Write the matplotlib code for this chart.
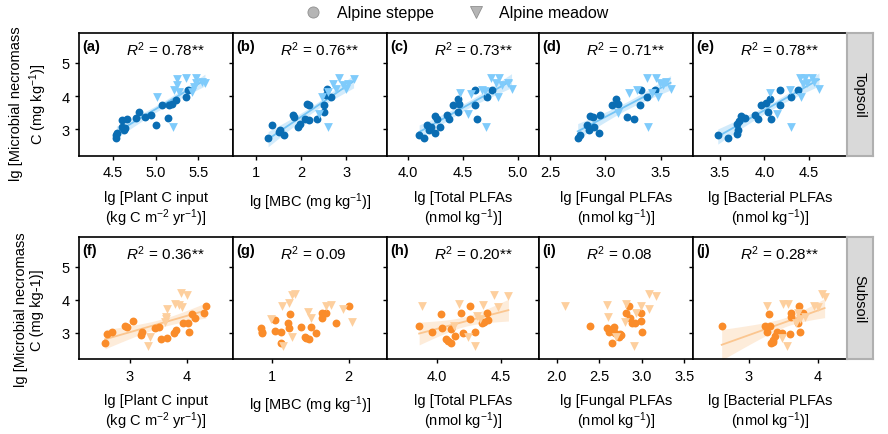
import numpy as np
import matplotlib.pyplot as plt
from matplotlib.lines import Line2D

plt.rcParams['font.family'] = ['Liberation Sans', 'DejaVu Sans']
plt.rcParams['mathtext.fontset'] = 'custom'
plt.rcParams['mathtext.rm'] = 'Liberation Sans'
plt.rcParams['mathtext.it'] = 'Liberation Sans:italic'
plt.rcParams['mathtext.bf'] = 'Liberation Sans:bold'

# ---- topsoil data (lg values) ----
a_steppe_x = [4.54, 4.54, 4.55, 4.60, 4.63, 4.60, 4.67, 4.77, 4.81, 4.88, 4.95, 5.00, 5.08, 5.15, 5.16, 5.19, 5.24, 5.36, 5.38, 4.64]
a_steppe_y = [2.74, 2.83, 2.89, 3.06, 2.98, 3.28, 3.31, 3.34, 3.51, 3.37, 3.43, 3.13, 3.74, 3.33, 3.73, 3.77, 3.89, 3.96, 4.17, 3.03]
a_meadow_x = [5.02, 5.21, 5.25, 5.36, 5.48, 5.25, 5.22, 5.27, 5.47, 5.55, 5.58, 5.43, 5.45]
a_meadow_y = [3.96, 3.07, 4.52, 4.54, 4.54, 4.34, 4.17, 4.12, 4.40, 4.42, 4.40, 4.12, 4.27]

b_steppe_x = [1.26, 1.34, 1.53, 1.62, 1.81, 1.84, 1.92, 1.96, 2.07, 2.13, 2.18, 2.18, 2.35, 2.51, 2.51, 2.55, 2.57, 2.66, 1.50]
b_steppe_y = [2.74, 3.13, 2.98, 2.81, 3.43, 3.36, 3.08, 3.16, 3.31, 3.76, 3.74, 3.29, 3.31, 3.51, 3.73, 4.02, 4.20, 3.96, 2.90]
b_meadow_x = [2.39, 2.60, 2.46, 2.70, 2.84, 2.78, 2.93, 3.00, 3.04, 3.16, 2.59]
b_meadow_y = [3.46, 3.06, 3.98, 4.37, 4.54, 4.22, 4.32, 4.20, 4.37, 4.52, 4.12]

c_steppe_x = [4.10, 4.14, 4.17, 4.19, 4.21, 4.24, 4.24, 4.26, 4.29, 4.35, 4.37, 4.41, 4.45, 4.46, 4.45, 4.61, 4.61, 4.63, 4.72, 4.76]
c_steppe_y = [2.81, 2.74, 3.14, 2.98, 3.06, 2.89, 3.39, 3.31, 3.08, 3.43, 3.31, 3.74, 3.91, 3.76, 3.51, 4.17, 3.73, 3.31, 3.96, 4.19]
c_meadow_x = [4.47, 4.54, 4.57, 4.71, 4.67, 4.70, 4.75, 4.83, 4.82, 4.85, 4.91, 4.94, 4.80]
c_meadow_y = [4.09, 3.45, 4.07, 3.06, 4.19, 4.14, 4.54, 4.54, 3.98, 4.34, 4.40, 4.20, 4.40]

d_steppe_x = [2.75, 2.77, 2.83, 2.85, 2.86, 2.89, 2.90, 2.94, 2.95, 3.06, 3.10, 3.11, 3.20, 3.26, 3.31, 3.32, 3.38, 3.45]
d_steppe_y = [2.74, 2.81, 3.13, 2.98, 3.41, 3.36, 3.06, 2.89, 3.43, 3.73, 3.91, 3.76, 3.38, 3.31, 3.73, 4.17, 3.96, 4.19]
d_meadow_x = [3.11, 3.21, 3.29, 3.39, 3.38, 3.46, 3.42, 3.48, 3.49, 3.55, 3.59, 3.52]
d_meadow_y = [3.48, 4.09, 4.17, 3.06, 4.54, 4.54, 4.09, 3.96, 4.40, 4.42, 4.20, 4.32]

e_steppe_x = [3.48, 3.59, 3.69, 3.69, 3.71, 3.72, 3.74, 3.78, 3.90, 3.93, 3.96, 4.02, 4.04, 4.06, 4.07, 4.17, 4.17, 4.30, 4.38]
e_steppe_y = [2.81, 2.74, 3.16, 2.86, 2.99, 3.26, 3.39, 3.33, 3.43, 3.31, 3.74, 3.78, 3.51, 3.91, 3.31, 4.17, 3.73, 3.96, 4.19]
e_meadow_x = [4.06, 4.14, 4.29, 4.30, 4.41, 4.40, 4.45, 4.48, 4.53, 4.56, 4.61, 4.43]
e_meadow_y = [4.09, 3.46, 4.17, 3.06, 3.96, 4.54, 4.54, 4.40, 4.54, 4.42, 4.20, 4.37]

# ---- subsoil data ----
f_steppe_x = [2.56, 2.60, 2.68, 2.95, 3.05, 3.19, 3.21, 3.44, 3.52, 3.55, 3.66, 3.78, 3.82, 3.94, 4.03, 4.04, 4.15, 4.09, 4.31, 4.34, 2.92]
f_steppe_y = [2.68, 2.95, 3.03, 3.18, 3.35, 2.93, 3.01, 3.13, 3.18, 2.80, 2.83, 3.00, 3.08, 3.28, 3.28, 3.01, 3.45, 3.55, 3.58, 3.81, 3.20]
f_meadow_x = [3.32, 3.35, 3.62, 3.64, 3.66, 3.79, 3.86, 3.91, 4.01, 3.63, 3.92]
f_meadow_y = [2.60, 2.88, 3.33, 3.48, 3.73, 3.88, 3.83, 4.20, 4.15, 3.40, 3.78]

g_steppe_x = [0.86, 0.87, 0.88, 1.04, 1.05, 1.12, 1.12, 1.21, 1.22, 1.24, 1.38, 1.43, 1.48, 1.51, 1.58, 1.65, 1.66, 1.71, 1.84, 2.00, 1.45]
g_steppe_y = [3.13, 2.98, 3.03, 3.38, 3.05, 3.01, 2.68, 3.28, 3.13, 3.55, 3.18, 2.88, 2.81, 3.18, 2.98, 3.61, 3.45, 3.58, 3.28, 3.81, 2.85]
g_meadow_x = [0.99, 1.14, 1.15, 1.23, 1.27, 1.31, 1.27, 1.47, 1.51, 1.70, 1.77, 1.92, 2.04]
g_meadow_y = [3.40, 3.80, 2.60, 3.90, 4.13, 4.16, 2.88, 3.63, 3.43, 3.81, 3.85, 3.73, 3.31]

h_steppe_x = [3.86, 3.96, 4.03, 4.04, 4.07, 4.11, 4.11, 4.14, 4.19, 4.20, 4.26, 4.26, 4.30, 4.35, 4.37, 4.39, 4.40, 4.09]
h_steppe_y = [3.20, 3.01, 3.56, 3.15, 2.80, 2.68, 3.10, 2.91, 3.60, 3.00, 3.81, 3.41, 3.03, 3.28, 3.33, 3.60, 3.38, 2.76]
h_meadow_x = [3.88, 4.17, 4.24, 4.30, 4.34, 4.36, 4.45, 4.48, 4.56, 4.13, 4.31]
h_meadow_y = [3.80, 3.88, 2.88, 2.60, 3.41, 3.85, 4.15, 3.78, 4.10, 3.20, 3.50]

i_steppe_x = [2.39, 2.59, 2.61, 2.65, 2.67, 2.69, 2.73, 2.76, 2.82, 2.85, 2.86, 2.88, 2.92, 2.99, 2.99, 3.00, 2.63, 2.74]
i_steppe_y = [3.20, 3.13, 3.03, 2.68, 3.18, 2.98, 2.88, 2.93, 3.58, 3.80, 3.43, 3.28, 3.28, 3.60, 3.35, 3.01, 3.08, 2.95]
i_meadow_x = [2.10, 2.59, 2.60, 2.70, 2.80, 2.82, 2.91, 2.93, 2.99, 3.08, 3.09, 3.17]
i_meadow_y = [3.80, 3.83, 3.48, 2.88, 3.33, 3.88, 2.60, 3.60, 3.80, 3.73, 4.16, 4.10]

j_steppe_x = [2.61, 3.24, 3.26, 3.30, 3.31, 3.32, 3.35, 3.38, 3.41, 3.48, 3.60, 3.61, 3.62, 3.71, 3.73, 3.75, 3.79, 3.36]
j_steppe_y = [3.20, 3.20, 3.01, 3.56, 3.20, 2.68, 2.78, 2.90, 3.03, 2.98, 2.95, 3.58, 3.46, 3.28, 3.81, 3.03, 3.60, 2.72]
j_meadow_x = [3.27, 3.49, 3.50, 3.56, 3.57, 3.69, 3.72, 3.82, 3.95, 4.01, 4.06, 4.10, 3.74]
j_meadow_y = [3.80, 2.85, 3.88, 2.58, 3.86, 3.30, 3.60, 3.46, 3.80, 3.78, 4.16, 4.08, 3.40]

panel_tags = ['(a)', '(b)', '(c)', '(d)', '(e)', '(f)', '(g)', '(h)', '(i)', '(j)']
r2_labels = ['0.78**', '0.76**', '0.73**', '0.71**', '0.78**',
             '0.36**', '0.09', '0.20**', '0.08', '0.28**']
significant = [True, True, True, True, True, True, False, True, False, True]

top_xticks = [[4.5, 5.0, 5.5], [1, 2, 3], [4.0, 4.5, 5.0], [2.5, 3.0, 3.5], [3.5, 4.0, 4.5]]
top_xticklabels = [['4.5', '5.0', '5.5'], ['1', '2', '3'], ['4.0', '4.5', '5.0'],
                   ['2.5', '3.0', '3.5'], ['3.5', '4.0', '4.5']]
top_xlims = [(4.10, 5.91), (0.48, 3.91), (3.81, 5.19), (2.40, 3.79), (3.20, 4.92)]
sub_xticks = [[3, 4], [1, 2], [4.0, 4.5], [2.0, 2.5, 3.0, 3.5], [3, 4]]
sub_xticklabels = [['3', '4'], ['1', '2'], ['4.0', '4.5'], ['2.0', '2.5', '3.0', '3.5'], ['3', '4']]
sub_xlims = [(2.10, 4.82), (0.50, 2.50), (3.61, 4.80), (1.79, 3.60), (2.19, 4.42)]

xlabels = ['lg [Plant C input\n(kg C m$^{-2}$ yr$^{-1}$)]',
           'lg [MBC (mg kg$^{-1}$)]',
           'lg [Total PLFAs\n(nmol kg$^{-1}$)]',
           'lg [Fungal PLFAs\n(nmol kg$^{-1}$)]',
           'lg [Bacterial PLFAs\n(nmol kg$^{-1}$)]']

# colours
top_steppe_c = '#0a6db3'
top_meadow_c = '#7fcbfb'
top_line_c = '#74c4f5'
top_band_c = '#bfe3fa'
sub_steppe_c = '#fa8c2a'
sub_meadow_c = '#fdcf9e'
sub_line_c = '#fbc690'
sub_band_c = '#fde4cb'

panels = [
    (a_steppe_x, a_steppe_y, a_meadow_x, a_meadow_y),
    (b_steppe_x, b_steppe_y, b_meadow_x, b_meadow_y),
    (c_steppe_x, c_steppe_y, c_meadow_x, c_meadow_y),
    (d_steppe_x, d_steppe_y, d_meadow_x, d_meadow_y),
    (e_steppe_x, e_steppe_y, e_meadow_x, e_meadow_y),
    (f_steppe_x, f_steppe_y, f_meadow_x, f_meadow_y),
    (g_steppe_x, g_steppe_y, g_meadow_x, g_meadow_y),
    (h_steppe_x, h_steppe_y, h_meadow_x, h_meadow_y),
    (i_steppe_x, i_steppe_y, i_meadow_x, i_meadow_y),
    (j_steppe_x, j_steppe_y, j_meadow_x, j_meadow_y),
]

W, H = 888, 435
fig = plt.figure(figsize=(W / 100, H / 100), dpi=100)

col_edges = [79, 233, 387.3, 539, 692.7, 846.7]
row_edges = [(34, 156.7), (238, 360)]


def fit_band(ax, xs, ys, line_c, band_c):
    x = np.asarray(xs)
    y = np.asarray(ys)
    n = len(x)
    b, a = np.polyfit(x, y, 1)
    gx = np.linspace(x.min(), x.max(), 100)
    gy = a + b * gx
    s = np.sqrt(np.sum((y - (a + b * x)) ** 2) / (n - 2))
    se = s * np.sqrt(1 / n + (gx - x.mean()) ** 2 / np.sum((x - x.mean()) ** 2))
    ax.fill_between(gx, gy - 2.03 * se, gy + 2.03 * se, color=band_c, alpha=0.7, lw=0, zorder=1)
    ax.plot(gx, gy, color=line_c, lw=1.3, zorder=2)


for k, (sx, sy, mx, my) in enumerate(panels):
    row, col = divmod(k, 5)
    top, bot = row_edges[row]
    l, r = col_edges[col], col_edges[col + 1]
    ax = fig.add_axes([l / W, 1 - bot / H, (r - l) / W, (bot - top) / H])
    if row == 0:
        cs, cm, lc, bc = top_steppe_c, top_meadow_c, top_line_c, top_band_c
        ax.set_xlim(top_xlims[col])
        ax.set_xticks(top_xticks[col], top_xticklabels[col])
    else:
        cs, cm, lc, bc = sub_steppe_c, sub_meadow_c, sub_line_c, sub_band_c
        ax.set_xlim(sub_xlims[col])
        ax.set_xticks(sub_xticks[col], sub_xticklabels[col])

    if significant[k]:
        fit_band(ax, list(sx) + list(mx), list(sy) + list(my), lc, bc)
    ax.scatter(sx, sy, s=32, marker='o', color=cs, lw=0, zorder=3)
    ax.scatter(mx, my, s=40, marker='v', color=cm, lw=0, zorder=3)

    ax.set_ylim(2.2, 5.9)
    ax.set_yticks([3, 4, 5])
    if col > 0:
        ax.set_yticklabels([])
    ax.tick_params(direction='out', length=3, width=1, labelsize=10.5, pad=4, colors='black')
    for sp in ax.spines.values():
        sp.set_linewidth(1.2)
    ax.set_xlabel(xlabels[col], fontsize=10.5, linespacing=1.17, va='top')
    ax.xaxis.set_label_coords(0.5, -0.28)

    ax.text(0.02, 0.89, panel_tags[k], transform=ax.transAxes, fontsize=10.5,
            fontweight='bold', ha='left', va='center')
    ax.text(0.305, 0.875, '$R^2$ = ' + r2_labels[k], transform=ax.transAxes,
            fontsize=11, ha='left', va='center')

# facet strips
for row, lab in enumerate(['Topsoil', 'Subsoil']):
    top, bot = row_edges[row]
    sax = fig.add_axes([846.7 / W, 1 - bot / H, 26 / W, (bot - top) / H])
    sax.set_facecolor('#d9d9d9')
    sax.set_xticks([])
    sax.set_yticks([])
    for sp in sax.spines.values():
        sp.set_color('#b0b0b0')
        sp.set_linewidth(1.5)
    sax.text(0.5, 0.5, lab, transform=sax.transAxes, rotation=270,
             ha='center', va='center', fontsize=10.5)

# y labels
fig.text(29 / W, 1 - 104 / H, 'lg [Microbial necromass\nC (mg kg$^{-1}$)]', rotation=90,
         ha='center', va='center', fontsize=10.5, linespacing=1.25, multialignment='center')
fig.text(29 / W, 1 - 310 / H, 'lg [Microbial necromass\nC (mg kg-1)]', rotation=90,
         ha='center', va='center', fontsize=10.5, linespacing=1.25, multialignment='center')

# legend
handles = [Line2D([], [], ls='none', marker='o', markersize=8, color='#b5b5b5', mec='#8f8f8f', mew=0.6),
           Line2D([], [], ls='none', marker='v', markersize=8, color='#b5b5b5', mec='#8f8f8f', mew=0.6)]
fig.legend(handles, ['Alpine steppe', 'Alpine meadow'], loc='center', bbox_to_anchor=(0.51, 0.968),
           ncol=2, frameon=False, fontsize=11.5, handletextpad=0.5, columnspacing=1.6)

fig.savefig('out.png', dpi=100)
